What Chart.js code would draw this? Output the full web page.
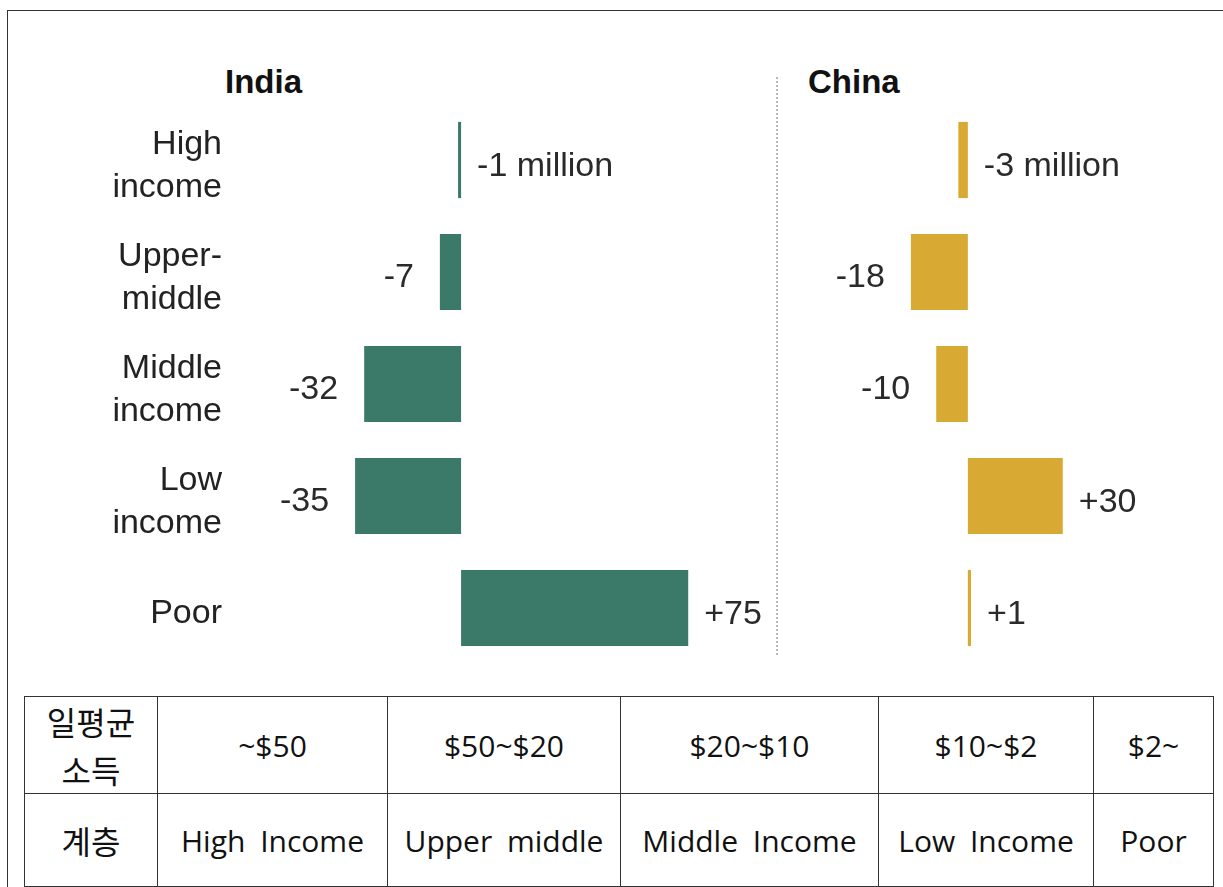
<!DOCTYPE html>
<html>
<head>
<meta charset="utf-8">
<script src="https://cdn.jsdelivr.net/npm/chart.js@4.4.0/dist/chart.umd.min.js"></script>
<style>
  body { margin: 0; background: #fff; width: 1223px; height: 887px; overflow: hidden; position: relative; font-family: "Liberation Sans", Arial, sans-serif; }
  .frame { position: absolute; left: 7px; top: 10px; width: 1240px; height: 900px; border: 1px solid #333; }
  .title { position: absolute; top: 65px; font-weight: bold; font-size: 33px; line-height: 33px; color: #111; }
  .divider { position: absolute; left: 776px; top: 77px; height: 578px; border-left: 2px dotted #b8b8b8; }
  #india-wrap { position: absolute; left: 0; top: 104px; width: 770px; height: 560px; }
  #china-wrap { position: absolute; left: 778px; top: 104px; width: 443px; height: 560px; }
  #income-table { position: absolute; left: 24px; top: 696px; width: 1190px; border-collapse: collapse; table-layout: fixed;
    font-family: "Open Sans", "Noto Sans CJK KR", sans-serif; font-size: 30px; color: #111; }
  #income-table td { border: 1.5px solid #333; text-align: center; vertical-align: middle; padding: 0; word-spacing: 7px; }
  #income-table td.head { font-family: "Noto Sans CJK KR", sans-serif; font-size: 32px; line-height: 48px; }
</style>
</head>
<body>
<div class="frame"></div>
<div class="title" style="left:225px">India</div>
<div class="title" style="left:808px">China</div>
<div class="divider"></div>
<div id="india-wrap"><canvas id="india-chart"></canvas></div>
<div id="china-wrap"><canvas id="china-chart"></canvas></div>
<table id="income-table"></table>

<script>
// income groups, top to bottom
const categories = [['High', 'income'], ['Upper-', 'middle'], ['Middle', 'income'], ['Low', 'income'], ['Poor']];
// change in population, millions
const indiaValues = [-1, -7, -32, -35, 75];
const chinaValues = [-3, -18, -10, 30, 1];
const valueSuffix = [' million', '', '', '', ''];

// table under the charts
const tableColumns = ['일평균\n소득', '~$50', '$50~$20', '$20~$10', '$10~$2', '$2~'];
const tableClasses = ['계층', 'High Income', 'Upper middle', 'Middle Income', 'Low Income', 'Poor'];
const columnWidths = [133, 230, 233, 258, 215, 120];

const labelFont = '34px "Liberation Sans", Arial, sans-serif';

function formatValue(v, i) {
    return (v > 0 ? '+' + v : String(v)) + valueSuffix[i];
}

// draws "-7", "+75", "-1 million" next to each bar
const valueLabels = {
    id: 'valueLabels',
    afterDatasetsDraw(chart) {
        const ctx = chart.ctx;
        const meta = chart.getDatasetMeta(0);
        const values = chart.data.datasets[0].data;
        ctx.save();
        ctx.font = labelFont;
        ctx.fillStyle = '#2a2a2a';
        ctx.textBaseline = 'middle';
        meta.data.forEach(function (bar, i) {
            const v = values[i];
            const left = Math.min(bar.x, bar.base);
            const right = Math.max(bar.x, bar.base);
            const text = formatValue(v, i);
            if (v > 0 || valueSuffix[i]) {
                ctx.textAlign = 'left';
                ctx.fillText(text, right + 16, bar.y + 7);
            } else {
                ctx.textAlign = 'right';
                ctx.fillText(text, left - 26, bar.y + 6);
            }
        });
        ctx.restore();
    }
};

function makeChart(id, values, color, range, showLabels) {
    const yAxis = {
        display: showLabels,
        grid: { display: false, drawTicks: false },
        border: { display: false },
        ticks: {
            color: '#222',
            padding: 18,
            labelOffset: 6,
            font: { family: '"Liberation Sans", Arial, sans-serif', size: 34, lineHeight: 1.27 }
        }
    };
    if (showLabels) {
        yAxis.afterFit = function (scale) {
            scale.width = 240;
            scale.paddingTop = 0;
            scale.paddingBottom = 0;
        };
    }
    return new Chart(document.getElementById(id).getContext('2d'), {
        type: 'bar',
        data: {
            labels: categories,
            datasets: [{
                data: values,
                backgroundColor: color,
                borderWidth: 0,
                categoryPercentage: 1,
                barPercentage: 0.68
            }]
        },
        options: {
            indexAxis: 'y',
            responsive: true,
            maintainAspectRatio: false,
            animation: false,
            layout: { padding: 0 },
            scales: {
                x: {
                    display: false,
                    min: range[0],
                    max: range[1]
                },
                y: yAxis
            },
            plugins: {
                legend: { display: false },
                tooltip: { enabled: false }
            }
        },
        plugins: [valueLabels]
    });
}

makeChart('india-chart', indiaValues, '#3b7a69', [-73, 102], true);
makeChart('china-chart', chinaValues, '#d9aa33', [-60, 80], false);

// table
const table = document.getElementById('income-table');
const colgroup = document.createElement('colgroup');
columnWidths.forEach(function (w) {
    const col = document.createElement('col');
    col.style.width = w + 'px';
    colgroup.appendChild(col);
});
table.appendChild(colgroup);

[[tableColumns, 97], [tableClasses, 93]].forEach(function (row) {
    const tr = document.createElement('tr');
    tr.style.height = row[1] + 'px';
    row[0].forEach(function (text, i) {
        const td = document.createElement('td');
        if (i === 0) td.className = 'head';
        td.innerHTML = text.replace('\n', '<br>');
        tr.appendChild(td);
    });
    table.appendChild(tr);
});
</script>
</body>
</html>
